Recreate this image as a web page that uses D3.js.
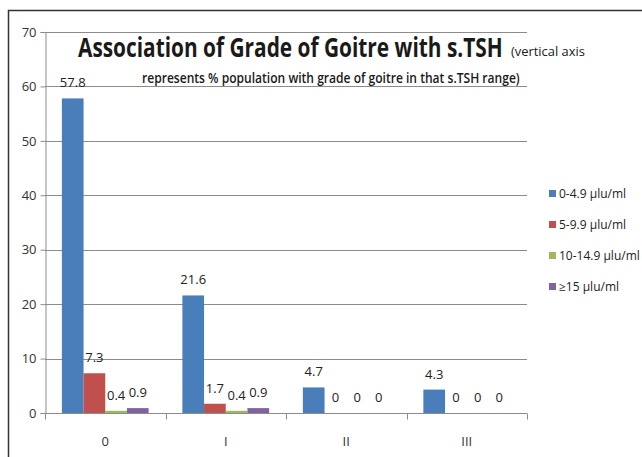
<!DOCTYPE html>
<html lang="en">
<head>
    <meta charset="UTF-8">
    <title>Goitre vs s.TSH</title>
    <script src="https://d3js.org/d3.v7.min.js"></script>
    <style>
        body {margin: 0; background: #fff;}
        svg {display: block;}
        text {font-family: "Open Sans", sans-serif;}
    </style>
</head>
<body>
<script>
    const width = 642;
    const height = 457;

    // data
    const grades = ["0", "I", "II", "III"];
    const ranges = ["0-4.9 \u00b5lu/ml", "5-9.9 \u00b5lu/ml", "10-14.9 \u00b5lu/ml", "\u226515 \u00b5lu/ml"];
    const tsh0  = [57.8, 21.6, 4.7, 4.3];
    const tsh5  = [7.3, 1.7, 0, 0];
    const tsh10 = [0.4, 0.4, 0, 0];
    const tsh15 = [0.9, 0.9, 0, 0];
    const yTicks = [0, 10, 20, 30, 40, 50, 60, 70];

    const series = [tsh0, tsh5, tsh10, tsh15];
    const colors = ["#4a7ebb", "#c0504d", "#9bbb59", "#8064a2"];

    const svg = d3.select("body").append("svg")
            .attr("width", width).attr("height", height);

    // outer frame
    svg.append("path")
            .attr("d", "M8.5," + height + "V10.5H" + width)
            .style("fill", "none")
            .style("stroke", "#333")
            .style("stroke-width", 1.5);

    const plot = {left: 45, right: 527, top: 32, bottom: 413};

    const x = d3.scaleBand()
            .domain(grades)
            .range([plot.left, plot.right])
            .paddingInner(0.28)
            .paddingOuter(0.14);

    const xs = d3.scaleBand()
            .domain(d3.range(series.length))
            .range([0, x.bandwidth()]);

    const y = d3.scaleLinear()
            .domain([0, 70])
            .range([plot.bottom, plot.top]);

    // gridlines
    svg.append("g")
            .selectAll("line")
            .data(yTicks)
            .join("line")
            .attr("x1", plot.left).attr("x2", plot.right)
            .attr("y1", d => Math.round(y(d)) + 0.5)
            .attr("y2", d => Math.round(y(d)) + 0.5)
            .style("stroke", "#8c8c8c")
            .style("stroke-width", 1);

    // y axis
    const yAxis = svg.append("g")
            .attr("transform", "translate(" + (plot.left + 0.5) + ",0)")
            .call(d3.axisLeft(y).tickValues(yTicks).tickSize(5).tickPadding(4).tickFormat(d3.format("d")));
    yAxis.select(".domain").style("stroke", "#8c8c8c");
    yAxis.selectAll(".tick line").style("stroke", "#8c8c8c");
    yAxis.selectAll("text")
            .style("font-family", "'Open Sans', sans-serif")
            .style("font-size", "13px")
            .style("fill", "#333");

    // x axis
    const step = (plot.right - plot.left) / grades.length;
    const xAxis = svg.append("g")
            .attr("transform", "translate(0," + (plot.bottom + 0.5) + ")");
    xAxis.append("line")
            .attr("x1", plot.left).attr("x2", plot.right)
            .style("stroke", "#8c8c8c");
    xAxis.selectAll("line.sep")
            .data(d3.range(grades.length + 1))
            .join("line")
            .attr("class", "sep")
            .attr("x1", i => Math.round(plot.left + i * step) + 0.5)
            .attr("x2", i => Math.round(plot.left + i * step) + 0.5)
            .attr("y1", 0).attr("y2", 6)
            .style("stroke", "#8c8c8c");
    xAxis.selectAll("text")
            .data(grades)
            .join("text")
            .attr("x", d => x(d) + x.bandwidth() / 2)
            .attr("y", 32)
            .attr("text-anchor", "middle")
            .style("font-size", "13px")
            .style("fill", "#333")
            .text(d => d);

    // bars
    const groups = svg.append("g").selectAll("g")
            .data(series)
            .join("g")
            .style("fill", (d, i) => colors[i]);

    groups.selectAll("rect")
            .data((d, i) => d.map((v, j) => ({v: v, g: grades[j], s: i})))
            .join("rect")
            .attr("x", d => x(d.g) + xs(d.s))
            .attr("width", xs.bandwidth())
            .attr("y", d => y(d.v))
            .attr("height", d => y(0) - y(d.v));

    groups.selectAll("text")
            .data((d, i) => d.map((v, j) => ({v: v, g: grades[j], s: i})))
            .join("text")
            .attr("x", d => x(d.g) + xs(d.s) + xs.bandwidth() / 2)
            .attr("y", d => y(d.v) - 11)
            .attr("text-anchor", "middle")
            .style("font-size", "13px")
            .style("fill", "#222")
            .text(d => d.v);

    // title: squeeze horizontally to the narrow look of the original
    function fitText(x0, y0, w, size, weight, txt) {
        const t = svg.append("text")
                .style("font-size", size + "px")
                .style("font-weight", weight)
                .style("fill", "#1a1a1a")
                .text(txt);
        const k = w / t.node().getComputedTextLength();
        t.attr("transform", "translate(" + x0 + "," + y0 + ") scale(" + k + ",1)");
        return t;
    }
    fitText(78, 57, 425, 27, 700, "Association of Grade of Goitre with s.TSH");
    fitText(511, 56, 74, 13, 400, "(vertical axis");
    fitText(142, 83, 378, 14, 600, "represents % population with grade of goitre in that s.TSH range)");

    // legend
    const legend = svg.append("g").selectAll("g")
            .data(ranges)
            .join("g")
            .attr("transform", (d, i) => "translate(549," + (190 + i * 31) + ")");
    legend.append("rect")
            .attr("width", 7).attr("height", 7)
            .style("fill", (d, i) => colors[i]);
    legend.append("text")
            .attr("x", 10).attr("y", 8)
            .style("font-size", "12px")
            .style("fill", "#222")
            .text(d => d);
</script>
</body>
</html>
